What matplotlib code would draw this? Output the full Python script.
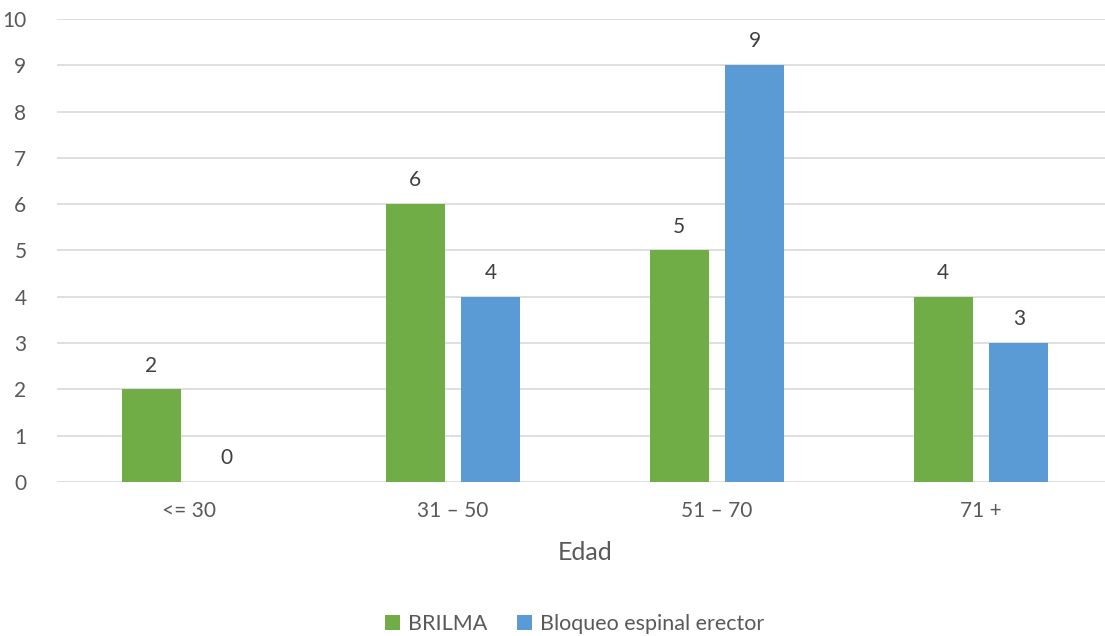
import matplotlib.pyplot as plt
import numpy as np

plt.rcParams["font.family"] = ["Lato", "DejaVu Sans"]

categories = ["<= 30", "31 – 50", "51 – 70", "71 +"]
brilma = [2, 6, 5, 4]
bloqueo = [0, 4, 9, 3]
series_names = ["BRILMA", "Bloqueo espinal erector"]

GREEN = "#70AD47"
BLUE = "#5B9BD5"
TEXT = "#595959"
GRID = "#D9D9D9"

fig = plt.figure(figsize=(11.05, 6.36), dpi=100)
# plot area runs a little past the right edge of the canvas
ax = fig.add_axes([57 / 1105, 1 - 482 / 636, (1113 - 57) / 1105, (482 - 19) / 636])

x = np.arange(len(categories))
width = 0.224
offset = 0.143

for vals, color, name, sign in [(brilma, GREEN, series_names[0], -1), (bloqueo, BLUE, series_names[1], 1)]:
    bars = ax.bar(x + sign * offset, vals, width=width, color=color, label=name, zorder=3)
    for b, v in zip(bars, vals):
        ax.text(b.get_x() + b.get_width() / 2, v + 0.3, f"{v}",
                ha="center", va="bottom", fontsize=15, color="#404040")

ax.set_xlim(-0.5, len(categories) - 0.5)
ax.set_ylim(0, 10)
ax.set_yticks(range(0, 11))
ax.set_xticks(x)
ax.set_xticklabels(categories)
ax.tick_params(axis="both", length=0, labelsize=15, labelcolor=TEXT)
ax.tick_params(axis="x", pad=14)
ax.tick_params(axis="y", pad=22)
ax.grid(axis="y", color=GRID, linewidth=1.2, zorder=0)
for s in ax.spines.values():
    s.set_visible(False)

ax.set_xlabel("Edad", fontsize=18, color=TEXT, labelpad=14)

fig.legend(loc="lower center", bbox_to_anchor=(0.52, -0.028), ncol=2, frameon=False,
           fontsize=15.5, labelcolor=TEXT, handlelength=0.7, handleheight=0.7,
           columnspacing=1.35, handletextpad=0.4)

fig.savefig("out.png", dpi=100)
